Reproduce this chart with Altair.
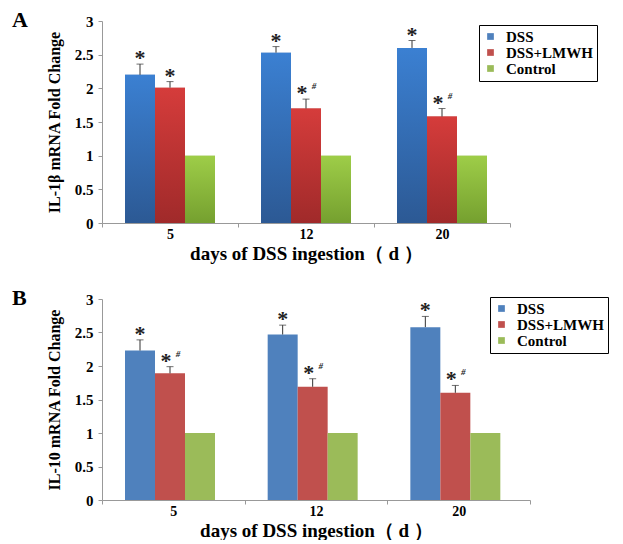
import altair as alt
import pandas as pd

days = ["5", "12", "20"]
series = ["DSS", "DSS+LMWH", "Control"]

a_dss = [2.20, 2.53, 2.60]
a_dss_err = [0.16, 0.09, 0.11]
a_lmwh = [2.01, 1.70, 1.58]
a_lmwh_err = [0.09, 0.14, 0.12]
a_ctrl = [1.0, 1.0, 1.0]
a_lmwh_hash = [False, True, True]

b_dss = [2.23, 2.47, 2.58]
b_dss_err = [0.16, 0.14, 0.16]
b_lmwh = [1.89, 1.69, 1.60]
b_lmwh_err = [0.10, 0.12, 0.11]
b_ctrl = [1.0, 1.0, 1.0]
b_lmwh_hash = [True, True, True]

y_ticks = [0, 0.5, 1, 1.5, 2, 2.5, 3]

FONT = "Liberation Serif"
flat_colors = ["#4f81bd", "#c0504d", "#9bbb59"]
grad_colors = {
    "DSS": ("#3b80d2", "#2c5994"),
    "DSS+LMWH": ("#d53c3b", "#a02a2a"),
    "Control": ("#9ecd48", "#75a02f"),
}


def make_df(dss, dss_err, lmwh, lmwh_err, ctrl, hashes):
    rows = []
    for i, d in enumerate(days):
        rows.append({"day": d, "series": "DSS", "value": dss[i], "err": dss_err[i],
                     "star": "*", "hash": ""})
        rows.append({"day": d, "series": "DSS+LMWH", "value": lmwh[i], "err": lmwh_err[i],
                     "star": "*", "hash": "#" if hashes[i] else ""})
        rows.append({"day": d, "series": "Control", "value": ctrl[i], "err": 0.0,
                     "star": "", "hash": ""})
    df = pd.DataFrame(rows)
    df["top"] = df["value"] + df["err"]
    return df


def panel(df, ytitle, letter, w, h, pad_outer, lx, ly, gradient, bar_range):
    x = alt.X("day:N", sort=days,
              scale=alt.Scale(paddingInner=0, paddingOuter=0),
              axis=alt.Axis(title="days of DSS ingestion（ d ）", tickBand="extent",
                            labelAngle=0, labelFont=FONT, labelFontSize=14,
                            labelFontWeight="bold", labelColor="black",
                            titleFont=FONT, titleFontSize=19, titleFontWeight="bold",
                            titleColor="black", domainColor="#999", tickColor="#999",
                            tickSize=4, labelPadding=0, titlePadding=3))
    xo = alt.XOffset("series:N", sort=series,
                     scale=alt.Scale(domain=series, paddingInner=0, paddingOuter=pad_outer))
    yaxis = alt.Axis(title=ytitle, values=y_ticks, labelExpr="'' + datum.value",
                     grid=False, labelOverlap=False,
                     labelFont=FONT, labelFontSize=15, labelFontWeight="bold",
                     labelColor="black", titleFont=FONT, titleFontSize=16,
                     titleFontWeight="bold", titleColor="black",
                     domainColor="#999", tickColor="#999", tickSize=4,
                     labelPadding=5, titlePadding=12)
    yscale = alt.Scale(domain=[0, 3], nice=False)
    y = alt.Y("value:Q", scale=yscale, axis=yaxis)
    ytop = alt.Y("top:Q", scale=yscale, axis=yaxis)
    base = alt.Chart(df)
    bars = base.mark_bar().encode(
        x=x, xOffset=xo, y=y,
        color=alt.Color("series:N", sort=series,
                        scale=alt.Scale(domain=series, range=bar_range),
                        legend=alt.Legend(orient="none", legendX=lx, legendY=ly, title=None,
                                          symbolType="square", symbolSize=45,
                                          symbolStrokeWidth=0,
                                          labelFont=FONT, labelFontSize=15,
                                          labelFontWeight="bold", labelColor="black",
                                          labelOffset=8, rowPadding=0,
                                          strokeColor="black", padding=4,
                                          fillColor="white")),
    )
    layers = [bars]
    if gradient:
        for s in series:
            top_c, bot_c = grad_colors[s]
            layers.append(
                base.transform_filter(alt.datum.series == s).mark_bar(
                    color=alt.Gradient(gradient="linear",
                                       stops=[alt.GradientStop(color=top_c, offset=0),
                                              alt.GradientStop(color=bot_c, offset=1)],
                                       x1=0, x2=0, y1=0, y2=1)
                ).encode(x=x, xOffset=xo, y=y)
            )
    eb = base.transform_filter(alt.datum.err > 0)
    layers.append(eb.mark_rule(color="#333", strokeWidth=1).encode(
        x=x, xOffset=xo, y=y, y2="top:Q"))
    layers.append(eb.mark_tick(color="#333", thickness=1, size=7).encode(
        x=x, xOffset=xo, y=ytop))
    star_plain = base.transform_filter("datum.star != '' && datum.hash == ''")
    layers.append(star_plain.mark_text(font=FONT, fontSize=22, fontWeight="bold",
                                       color="#222", baseline="alphabetic", dy=1).encode(
        x=x, xOffset=xo, y=ytop, text="star:N"))
    star_hash = base.transform_filter("datum.hash != ''")
    layers.append(star_hash.mark_text(font=FONT, fontSize=22, fontWeight="bold",
                                      color="#222", baseline="alphabetic", dy=1, dx=-4).encode(
        x=x, xOffset=xo, y=ytop, text="star:N"))
    layers.append(star_hash.mark_text(font=FONT, fontSize=9, fontStyle="italic",
                                      fontWeight="bold", color="#222",
                                      baseline="alphabetic", dy=-10, dx=8).encode(
        x=x, xOffset=xo, y=ytop, text="hash:N"))
    layers.append(alt.Chart(pd.DataFrame({"t": [letter]})).mark_text(
        font=FONT, fontSize=22, fontWeight="bold", color="black", align="left",
        baseline="alphabetic").encode(text="t:N", x=alt.value(-90), y=alt.value(6)))
    return alt.layer(*layers).properties(width=w, height=h)


df_a = make_df(a_dss, a_dss_err, a_lmwh, a_lmwh_err, a_ctrl, a_lmwh_hash)
df_b = make_df(b_dss, b_dss_err, b_lmwh, b_lmwh_err, b_ctrl, b_lmwh_hash)

pa = panel(df_a, "IL-1β mRNA Fold Change", "A", 408, 202, 0.767, 377, 4, True, flat_colors)
pb = panel(df_b, "IL-10 mRNA Fold Change", "B", 428, 201, 0.8, 388, -2, False, flat_colors)

chart = alt.vconcat(pa, pb, spacing=24).resolve_scale(color="independent").configure(
    font=FONT, padding={"left": 4, "top": 1, "right": 0, "bottom": 0}
).configure_axisY(labelOverlap=False).configure_view(stroke=None)

chart.save("out.html", embed_options={"renderer": "svg", "actions": False})
